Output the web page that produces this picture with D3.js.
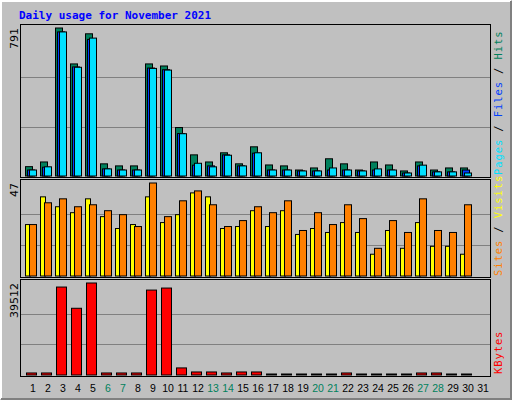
<!DOCTYPE html><html><head><script src="https://cdn.jsdelivr.net/npm/d3@7"></script>
<style>body{margin:0;background:#fff}</style></head><body><svg id="c" width="512" height="400"></svg>
<script>
const days=d3.range(1,32);
const weekend=[6,7,13,14,20,21,27,28];
const hits=[50,75,791,599,760,65,54,54,599,588,259,113,75,124,65,156,59,54,32,43,92,65,32,75,59,27,75,32,43,43];
const files=[32,47,770,583,730,38,32,32,577,568,227,58,54,113,54,122,32,32,27,27,32,32,27,32,32,16,54,22,22,32];
const pages=[32,49,770,581,737,38,32,32,575,566,226,68,49,111,54,124,32,32,27,27,43,32,27,38,32,16,58,22,22,16];
const sites=[26,40,35,32,39,30,24,26,40,27,31,42,40,24,25,33,25,33,21,24,22,27,22,11,23,14,27,15,15,11];
const visits=[26,37,39,35,36,33,31,25,47,30,38,43,36,25,28,35,32,38,23,32,26,36,29,14,28,22,39,23,22,36];
const kbytes=[870,870,37775,28657,39512,870,870,870,36472,37341,3040,1300,1300,870,1300,1300,430,430,430,430,430,870,430,430,430,430,870,870,430,430];
const svg=d3.select("#c");
svg.append("rect").attr("x",0).attr("y",0).attr("width",512).attr("height",400).attr("fill","#c0c0c0");
svg.append("path").attr("d","M1,399V1H511").attr("stroke","#fff").attr("stroke-width",2).attr("fill","none");
svg.append("path").attr("d","M1,399H511V1").attr("stroke","#808080").attr("stroke-width",2).attr("fill","none");
svg.append("text").attr("x",19).attr("y",19).attr("font-family","DejaVu Sans Mono").attr("font-weight","bold").attr("font-size",11).attr("fill","#0000ff").text("Daily usage for November 2021");
const X=d=>20+15*(d-1)+5;
function panel(y0,y1,max,series){
  svg.append("rect").attr("x",20.5).attr("y",y0+.5).attr("width",470).attr("height",y1-y0).attr("fill","#c0c0c0").attr("stroke","#000");
  const y=d3.scaleLinear().domain([0,max]).range([y1-1,y0+4]);
  [1/3,2/3].forEach(f=>svg.append("line").attr("x1",21).attr("x2",490).attr("y1",Math.round(y(max*f))+.5).attr("y2",Math.round(y(max*f))+.5).attr("stroke","#808080"));
  series.forEach(s=>{
    svg.append("g").selectAll("rect").data(s.v).join("rect")
      .attr("x",(d,i)=>X(i+1)+s.off+.5).attr("width",s.w).attr("y",d=>y(d)).attr("height",d=>y(0)-y(d))
      .attr("fill",s.c).attr("stroke","#000");
  });
  svg.append("text").attr("transform",`translate(18,${y0+4}) rotate(-90)`).attr("text-anchor","end")
    .attr("font-family","DejaVu Sans").attr("font-size",11).text(max);
}
function sidelabel(yEnd,parts){
  const t=svg.append("text").attr("transform",`translate(502,${yEnd}) rotate(-90)`).attr("text-anchor","start").attr("font-family","DejaVu Sans Mono").attr("font-size",10.5).attr("letter-spacing",0.9);
  parts.forEach(p=>t.append("tspan").attr("fill",p[1]).text(p[0]));
}
panel(24,177,791,[{v:hits,c:"#00805c",off:0,w:7},{v:files,c:"#0040ff",off:2,w:7},{v:pages,c:"#00e0ff",off:4,w:7}]);
panel(179,277,47,[{v:sites,c:"#ffff00",off:0,w:5},{v:visits,c:"#ff8000",off:4,w:7}]);
panel(279,376,39512,[{v:kbytes,c:"#ff0000",off:1,w:10}]);
sidelabel(175,[["Pages","#00e0ff"],["/","#000"],["Files","#0040ff"],["/","#000"],["Hits","#00805c"]].map(p=>p[0]=="/"?[" / ",p[1]]:p));
sidelabel(276,[["Sites","#ff8000"],[" / ","#000"],["Visits","#ffff00"]]);
sidelabel(374,[["KBytes","#ff0000"]]);
svg.append("g").selectAll("text").data(days).join("text").attr("x",d=>X(d)+8).attr("y",392)
  .attr("text-anchor","middle").attr("font-family","Liberation Sans").attr("font-size",10.5)
  .attr("fill",d=>weekend.includes(d)?"#00805c":"#000").text(d=>d);
</script></body></html>
